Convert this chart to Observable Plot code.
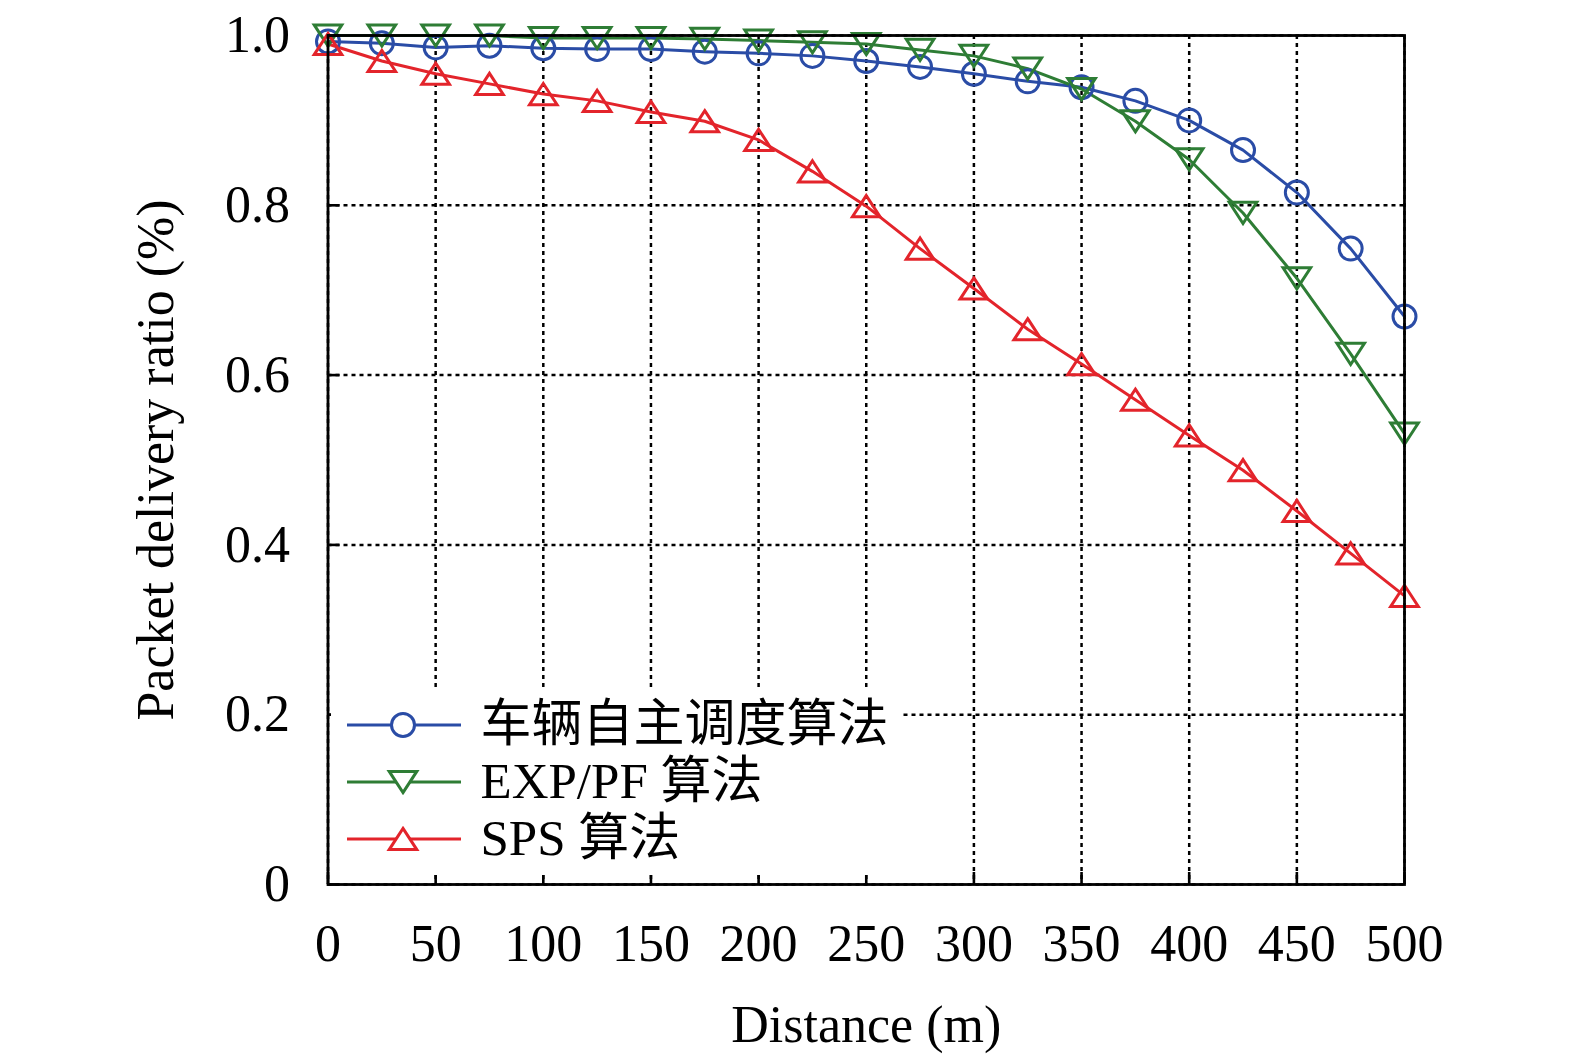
<!DOCTYPE html>
<html>
<head>
<meta charset="utf-8">
<script src="https://cdn.jsdelivr.net/npm/d3@7"></script>
<script src="https://cdn.jsdelivr.net/npm/@observablehq/plot@0.6"></script>
<style>
  html, body { margin: 0; padding: 0; background: #fff; overflow: hidden; }
  #wrap { position: relative; width: 1575px; height: 1063px; overflow: hidden; }
  #wrap > svg { display: block; }
  #legend { position: absolute; background: #fff; font-family: "Liberation Serif", "Times New Roman", "Noto Sans CJK SC", serif; font-size: 51px; color: #000; }
  .entry { display: flex; align-items: center; height: 57px; }
  .entry svg { flex: none; display: block; }
  .entry span { margin-left: 18px; white-space: nowrap; line-height: 1; }
</style>
</head>
<body>
<div id="wrap"><div id="legend"></div></div>
<script>
const distance = [0, 25, 50, 75, 100, 125, 150, 175, 200, 225, 250, 275, 300, 325, 350, 375, 400, 425, 450, 475, 500];
const autonomous = [0.993, 0.991, 0.986, 0.988, 0.985, 0.984, 0.984, 0.981, 0.979, 0.976, 0.970, 0.963, 0.955, 0.946, 0.939, 0.923, 0.900, 0.865, 0.815, 0.749, 0.669];
const expPf = [1.0, 1.0, 1.0, 1.0, 0.997, 0.997, 0.997, 0.996, 0.994, 0.992, 0.990, 0.983, 0.976, 0.961, 0.937, 0.899, 0.854, 0.791, 0.714, 0.625, 0.531];
const sps = [0.990, 0.970, 0.955, 0.943, 0.931, 0.923, 0.910, 0.899, 0.877, 0.840, 0.799, 0.749, 0.702, 0.654, 0.613, 0.571, 0.529, 0.488, 0.440, 0.390, 0.340];
const seriesNames = ["车辆自主调度算法", "EXP/PF 算法", "SPS 算法"];
const seriesColors = ["#2a4ca6", "#2e7d35", "#e3242b"];
const xTicks = [0, 50, 100, 150, 200, 250, 300, 350, 400, 450, 500];
const yTicks = [0, 0.2, 0.4, 0.6, 0.8, 1.0];
const yTickLabels = ["0", "0.2", "0.4", "0.6", "0.8", "1.0"];

const seriesValues = [autonomous, expPf, sps];
const rows = [];
seriesValues.forEach((vals, i) => vals.forEach((v, j) => rows.push({series: seriesNames[i], x: distance[j], y: v})));

function triSymbol(up) {
  return {
    draw(ctx, size) {
      const r = Math.sqrt(size / Math.PI);
      const w = r * 1.2, h = r * 0.92;
      const s = up ? 1 : -1;
      ctx.moveTo(0, -s * h);
      ctx.lineTo(w, s * h);
      ctx.lineTo(-w, s * h);
      ctx.closePath();
    }
  };
}
const symbols = [d3.symbolCircle, triSymbol(false), triSymbol(true)];

const font = '"Liberation Serif", "Times New Roman", "Noto Sans CJK SC", serif';
const W = 1575, H = 1063;
const mL = 327.5, mR = 171, mT = 35, mB = 179;

const chart = Plot.plot({
  width: W, height: H,
  marginLeft: mL, marginRight: mR, marginTop: mT, marginBottom: mB,
  style: {fontFamily: font, fontSize: "52px", color: "#000", background: "#fff", overflow: "visible"},
  x: {domain: [0, 500]},
  y: {domain: [0, 1]},
  color: {domain: seriesNames, range: seriesColors},
  symbol: {domain: seriesNames, range: symbols},
  marks: [
    Plot.gridX(xTicks, {stroke: "#000", strokeOpacity: 1, strokeWidth: 2.5, strokeDasharray: "4,4"}),
    Plot.gridY(yTicks, {stroke: "#000", strokeOpacity: 1, strokeWidth: 2.5, strokeDasharray: "4,4"}),
    Plot.line(rows, {x: "x", y: "y", z: "series", stroke: "series", strokeWidth: 3}),
    Plot.dot(rows, {x: "x", y: "y", stroke: "series", symbol: "series", r: 11.5, strokeWidth: 3, fill: "none"}),
    Plot.frame({stroke: "#000", strokeWidth: 2.8}),
    Plot.axisX(xTicks, {tickSize: 12, dy: -12, text: null, strokeWidth: 2.6, label: null}),
    Plot.axisY(yTicks, {tickSize: 12, dx: 12, text: null, strokeWidth: 2.6, label: null}),
    Plot.axisX(xTicks, {tickSize: 0, tickPadding: 40, fontSize: 52, label: "Distance (m)", labelAnchor: "center", labelOffset: 157, labelArrow: "none"}),
    Plot.axisY(yTicks, {tickSize: 0, tickPadding: 38, fontSize: 52, tickFormat: (d) => yTickLabels[yTicks.indexOf(d)], label: "Packet delivery ratio (%)", labelAnchor: "center", labelOffset: 192, labelArrow: "none"})
  ]
});
document.getElementById("wrap").prepend(chart);

// legend (HTML, overlaid inside the plot frame)
const legend = document.getElementById("legend");
legend.style.left = (mL + 3) + "px";
legend.style.top = (H - mB - 194) + "px";
legend.style.padding = "6px 14px 8px 14px";
seriesNames.forEach((name, i) => {
  const e = document.createElement("div");
  e.className = "entry";
  const svg = d3.create("svg").attr("width", 118).attr("height", 40);
  svg.append("line").attr("x1", 2).attr("x2", 116).attr("y1", 20).attr("y2", 20).attr("stroke", seriesColors[i]).attr("stroke-width", 3);
  svg.append("path").attr("transform", "translate(58,20)").attr("d", d3.symbol(symbols[i], Math.PI * 132)()).attr("fill", "#fff").attr("stroke", seriesColors[i]).attr("stroke-width", 3);
  e.appendChild(svg.node());
  const t = document.createElement("span");
  t.textContent = name;
  e.appendChild(t);
  legend.appendChild(e);
});
</script>
</body>
</html>
